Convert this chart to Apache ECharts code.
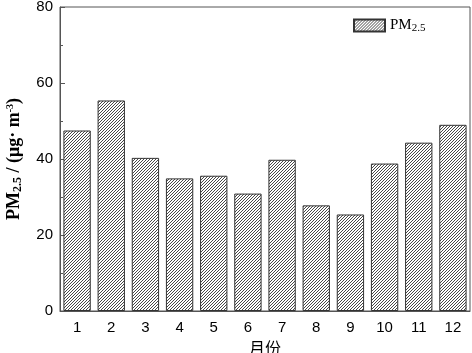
<!DOCTYPE html>
<html>
<head>
<meta charset="utf-8">
<script src="https://cdn.jsdelivr.net/npm/echarts@6/dist/echarts.min.js"></script>
<style>html,body{margin:0;padding:0;background:#fff}#c{width:472px;height:353px}</style>
</head>
<body>
<div id="c"></div>
<script>
var months = ['1','2','3','4','5','6','7','8','9','10','11','12'];
var pm25 = [47.5, 55.4, 40.3, 34.9, 35.6, 30.9, 39.8, 27.8, 25.4, 38.8, 44.3, 49.0];
var seriesName = 'PM2.5';
var yTicks = [0, 20, 40, 60, 80];

function hatch() {
  var s = 3, c = document.createElement('canvas');
  c.width = s; c.height = s;
  var g = c.getContext('2d');
  g.fillStyle = '#ffffff'; g.fillRect(0, 0, s, s);
  g.strokeStyle = '#333'; g.lineWidth = 0.9;
  g.beginPath();
  g.moveTo(-1, s + 1); g.lineTo(s + 1, -1);
  g.moveTo(-1, 1); g.lineTo(1, -1);
  g.moveTo(s - 1, s + 1); g.lineTo(s + 1, s - 1);
  g.stroke();
  return c;
}
var pat = { image: hatch(), repeat: 'repeat' };

var chart = echarts.init(document.getElementById('c'), null, { renderer: 'canvas' });
var axisCol = '#555';
chart.setOption({
  animation: false,
  backgroundColor: '#fff',
  grid: { left: 60, right: 2, top: 7, bottom: 42, show: true, borderColor: axisCol, borderWidth: 1, containLabel: false, outerBoundsMode: 'none' },
  legend: {
    left: 348, top: 13, itemWidth: 31, itemHeight: 12, itemGap: 4, icon: 'rect',
    data: [seriesName],
    formatter: function () { return 'PM{sub|2.5}'; },
    textStyle: {
      fontFamily: 'Liberation Serif', fontSize: 15, color: '#000',
      rich: { sub: { fontFamily: 'Liberation Serif', fontSize: 11, color: '#000', verticalAlign: 'bottom', padding: [5, 0, 0, 0] } }
    }
  },
  xAxis: {
    type: 'category', data: months,
    axisLine: { lineStyle: { color: axisCol } },
    axisTick: { inside: true, length: 3, alignWithLabel: true, lineStyle: { color: axisCol } },
    axisLabel: { fontFamily: 'Liberation Sans', fontSize: 15, color: '#000', margin: 9 },
    name: '月份', nameLocation: 'middle', nameGap: 24,
    nameTextStyle: { fontFamily: 'Noto Sans CJK SC', fontSize: 16, color: '#000' }
  },
  yAxis: {
    type: 'value', min: yTicks[0], max: yTicks[yTicks.length - 1], interval: 20,
    axisLine: { show: true, lineStyle: { color: axisCol } },
    axisTick: { show: true, inside: true, length: 5, lineStyle: { color: axisCol } },
    minorTick: { show: true, splitNumber: 2, length: 3, lineStyle: { color: axisCol } },
    splitLine: { show: false },
    axisLabel: { fontFamily: 'Liberation Sans', fontSize: 15, color: '#000', margin: 7 },
    name: 'PM{sub|2.5} / (μg· m{sup|-3})', nameLocation: 'middle', nameGap: 36, nameRotate: 90,
    nameTextStyle: {
      fontFamily: 'Liberation Serif', fontSize: 18, fontWeight: 'bold', color: '#000',
      rich: {
        sub: { fontFamily: 'Liberation Serif', fontSize: 12, fontWeight: 'bold', color: '#000', verticalAlign: 'bottom', padding: [7, 0, 0, 0] },
        sup: { fontFamily: 'Liberation Serif', fontSize: 10, fontWeight: 'bold', color: '#000', verticalAlign: 'top', padding: [0, 0, 7, 0] }
      }
    }
  },
  series: [{
    name: seriesName, type: 'bar', data: pm25, barCategoryGap: '20%',
    itemStyle: { color: pat, borderColor: '#333', borderWidth: 1 }
  }]
});
</script>
</body>
</html>
